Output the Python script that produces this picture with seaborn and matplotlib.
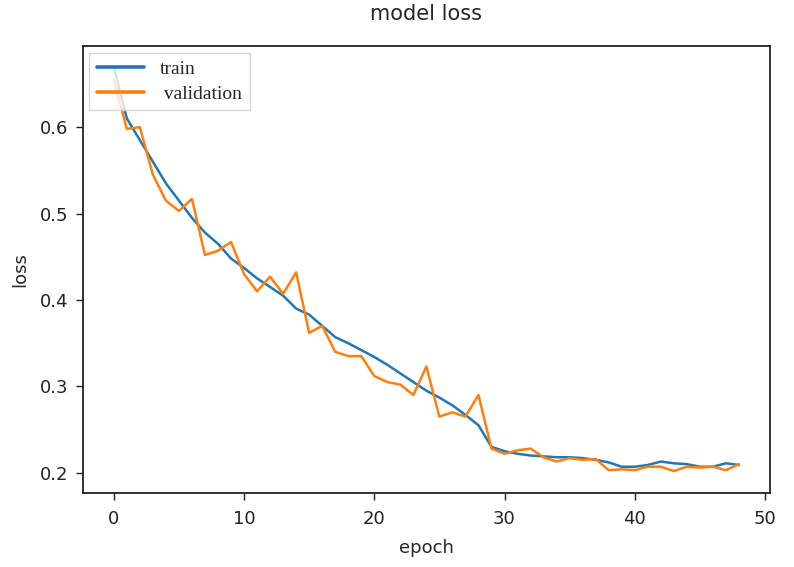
import numpy as np
import pandas as pd
import seaborn as sns
import matplotlib.pyplot as plt

epochs = list(range(49))

train_loss = [0.670, 0.610, 0.585, 0.560, 0.535, 0.515, 0.495, 0.478, 0.465, 0.448,
              0.437, 0.425, 0.415, 0.405, 0.390, 0.383, 0.370, 0.357, 0.350, 0.342,
              0.334, 0.325, 0.315, 0.305, 0.295, 0.287, 0.278, 0.267, 0.255, 0.230,
              0.225, 0.222, 0.220, 0.219, 0.218, 0.218, 0.217, 0.215, 0.212, 0.207,
              0.207, 0.209, 0.213, 0.211, 0.210, 0.207, 0.207, 0.211, 0.209]

val_loss = [0.655, 0.598, 0.600, 0.545, 0.515, 0.503, 0.517, 0.452, 0.457, 0.467,
            0.430, 0.410, 0.427, 0.407, 0.432, 0.362, 0.370, 0.340, 0.335, 0.335,
            0.312, 0.305, 0.302, 0.290, 0.323, 0.265, 0.270, 0.265, 0.290, 0.228,
            0.222, 0.226, 0.228, 0.218, 0.213, 0.217, 0.215, 0.216, 0.203, 0.204,
            0.203, 0.207, 0.207, 0.202, 0.207, 0.206, 0.207, 0.203, 0.210]

series_names = ['train', ' validation']


def make_plot(outpath='out.png'):
    sns.set_theme(style='ticks')
    plt.rcParams['font.family'] = ['DejaVu Sans']

    df = pd.DataFrame({
        'epoch': epochs * 2,
        'loss': train_loss + val_loss,
        'series': [series_names[0]] * len(epochs) + [series_names[1]] * len(epochs),
    })

    fig = plt.figure(figsize=(7.94, 5.67), dpi=100)
    ax = fig.add_axes([0.104, 0.1305, 0.866, 0.7885])

    sns.lineplot(data=df, x='epoch', y='loss', hue='series',
                 palette=['#1f77b4', '#ff7f0e'], linewidth=1.8, ax=ax)

    ax.set_xlim(-2.4, 50.4)
    ax.set_ylim(0.1766, 0.694)
    ax.set_xticks([0, 10, 20, 30, 40, 50])
    ax.set_yticks([0.2, 0.3, 0.4, 0.5, 0.6])
    ax.tick_params(labelsize=13, length=5, width=1, colors='#222222')
    ax.tick_params(axis='x', pad=7)
    ax.tick_params(axis='y', pad=5)
    for s in ax.spines.values():
        s.set_visible(True)
        s.set_color('#222222')
        s.set_linewidth(1.3)

    ax.set_title('model loss', fontsize=15, pad=19)
    ax.set_xlabel('epoch', fontsize=13, labelpad=8)
    ax.set_ylabel('loss', fontsize=13, labelpad=8)

    leg = ax.legend(loc='upper left', frameon=True,
                    prop={'family': 'Liberation Serif', 'size': 14},
                    handlelength=2.4, borderaxespad=0.35, fancybox=False,
                    labelspacing=0.35)
    for line in leg.get_lines():
        line.set_linewidth(2.6)
    leg.get_frame().set_edgecolor('#cccccc')
    leg.get_frame().set_alpha(0.8)
    leg.set_title(None)

    fig.savefig(outpath, dpi=100)


if __name__ == '__main__':
    make_plot()
